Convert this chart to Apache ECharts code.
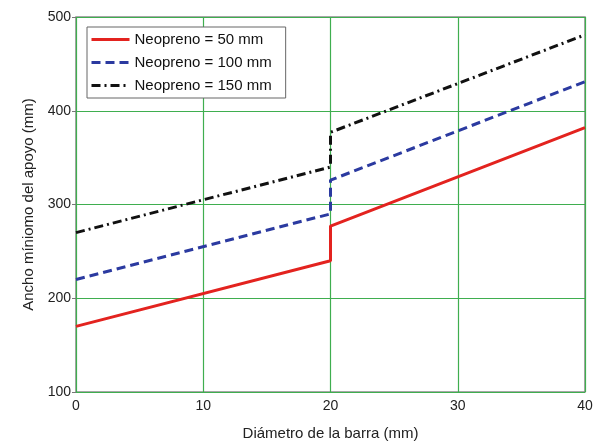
<!DOCTYPE html>
<html>
<head>
<meta charset="utf-8">
<script src="https://cdn.jsdelivr.net/npm/echarts@6/dist/echarts.min.js"></script>
<style>
  html, body { margin: 0; padding: 0; background: #fff; }
  #main { width: 603px; height: 446px; }
</style>
</head>
<body>
<div id="main"></div>
<script>
// diámetro de la barra (mm), el 20 aparece dos veces por el salto
var diametro = [0, 20, 20, 40];
var neo50 = [170, 240, 277, 382];
var neo100 = [220, 290, 326, 431];
var neo150 = [270, 340, 377, 481];
var nombres = ['Neopreno = 50 mm', 'Neopreno = 100 mm', 'Neopreno = 150 mm'];

function pares(ys) {
  return diametro.map(function (x, i) { return [x, ys[i]]; });
}

var fuente = 'Liberation Sans, Arial, sans-serif';
var myChart = echarts.init(document.getElementById('main'));

myChart.setOption({
  backgroundColor: '#fff',
  animation: false,
  grid: {
    left: 76, right: 18, top: 17, bottom: 51,
    show: true, borderColor: '#8a8a8a', borderWidth: 1.5
  },
  legend: {
    orient: 'vertical',
    left: 87, top: 27,
    itemWidth: 38, itemHeight: 12, itemGap: 8,
    padding: [5, 14, 5, 3],
    borderColor: '#666', borderWidth: 1,
    backgroundColor: '#fff',
    itemStyle: { opacity: 0 },
    lineStyle: { width: 3 },
    textStyle: { fontFamily: fuente, fontSize: 15, color: '#111' },
    data: nombres
  },
  xAxis: {
    type: 'value', min: 0, max: 40, interval: 10,
    name: 'Diámetro de la barra (mm)',
    nameLocation: 'middle', nameGap: 34,
    nameTextStyle: { fontFamily: fuente, fontSize: 15, color: '#222' },
    axisLine: { show: false },
    axisTick: { show: false },
    axisLabel: { fontFamily: fuente, fontSize: 14, color: '#222', margin: 7 },
    splitLine: { show: true, lineStyle: { color: '#3fae4f', width: 1.2 } }
  },
  yAxis: {
    type: 'value', min: 100, max: 500, interval: 100,
    name: 'Ancho míniomo del apoyo (mm)',
    nameLocation: 'middle', nameGap: 40, nameRotate: 90,
    nameTextStyle: { fontFamily: fuente, fontSize: 15, color: '#222' },
    axisLine: { show: false },
    axisTick: { show: true, length: 4, lineStyle: { color: '#777' } },
    axisLabel: { fontFamily: fuente, fontSize: 14, color: '#222', margin: 5 },
    splitLine: { show: true, lineStyle: { color: '#3fae4f', width: 1.2 } }
  },
  series: [
    {
      name: nombres[0], type: 'line', symbol: 'none', data: pares(neo50),
      lineStyle: { color: '#e3231f', width: 3, type: 'solid' },
      itemStyle: { color: '#e3231f' }
    },
    {
      name: nombres[1], type: 'line', symbol: 'none', data: pares(neo100),
      lineStyle: { color: '#2b3aa0', width: 3, type: [9, 5] },
      itemStyle: { color: '#2b3aa0' }
    },
    {
      name: nombres[2], type: 'line', symbol: 'none', data: pares(neo150),
      lineStyle: { color: '#111', width: 3, type: [9, 4, 2, 4] },
      itemStyle: { color: '#111' }
    }
  ]
});
</script>
</body>
</html>
